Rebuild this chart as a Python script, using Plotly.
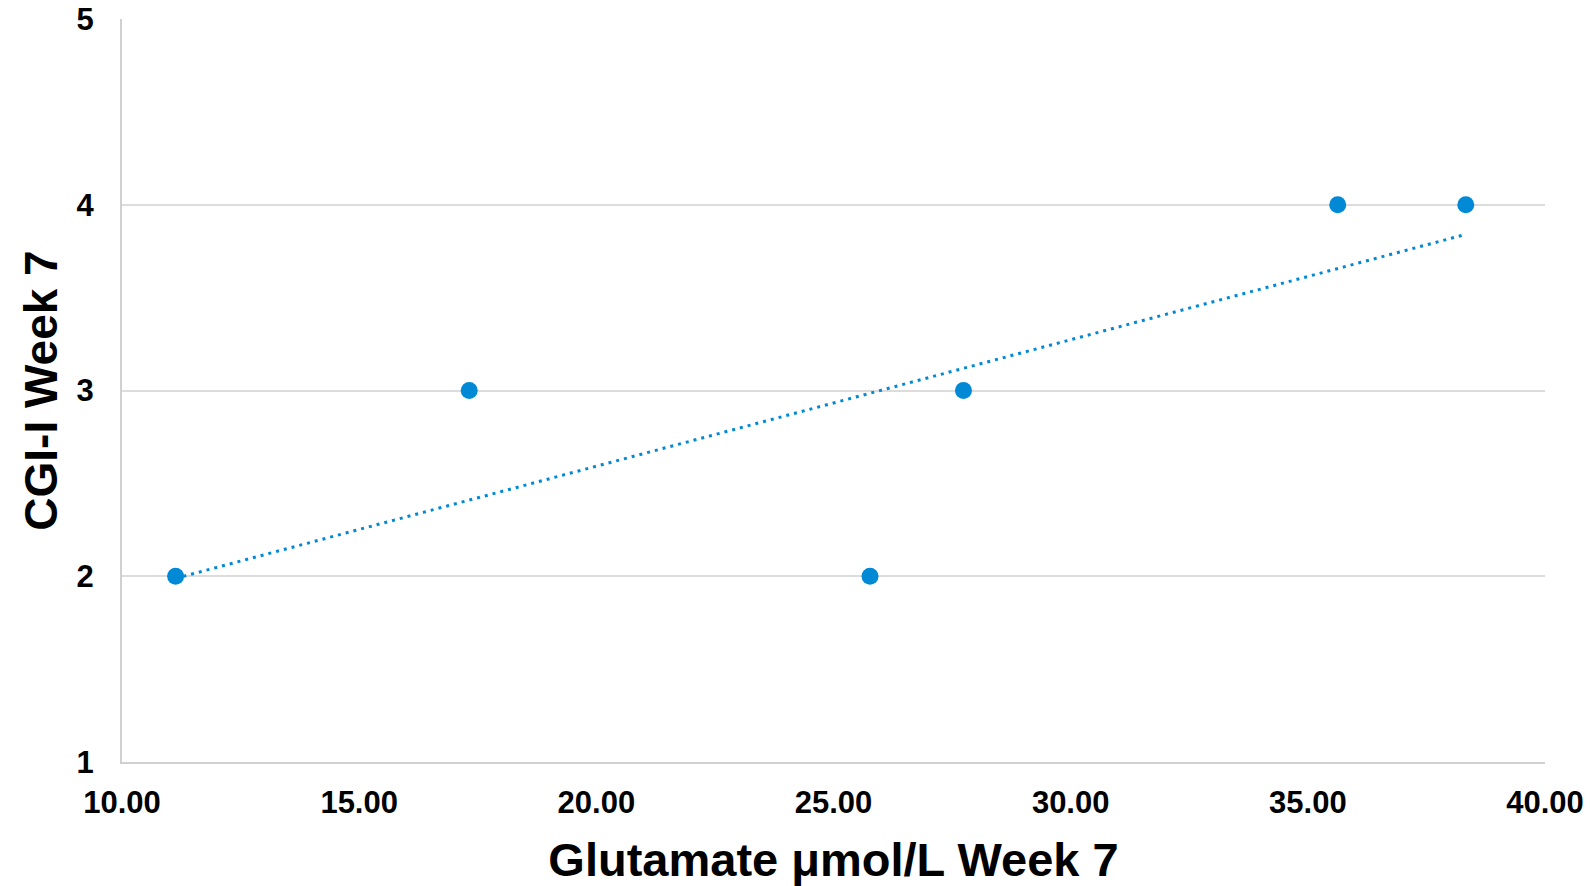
import numpy as np
import plotly.graph_objects as go

# Data
glutamate_week7 = [11.13, 17.32, 25.77, 27.74, 35.63, 38.33]
cgi_week7 = [2, 3, 2, 3, 4, 4]
x_tick_values = [10, 15, 20, 25, 30, 35, 40]
y_tick_values = [1, 2, 3, 4, 5]

BLUE = "#0189D6"
FONT = "Liberation Sans, Arial, sans-serif"

slope, intercept = np.polyfit(glutamate_week7, cgi_week7, 1)
trend_x = [min(glutamate_week7), max(glutamate_week7)]
trend_y = [slope * v + intercept for v in trend_x]

fig = go.Figure()
fig.add_trace(go.Scatter(
    x=trend_x, y=trend_y, mode="lines",
    line=dict(color=BLUE, width=3, dash="3px,5px"),
    hoverinfo="skip", showlegend=False,
))
fig.add_trace(go.Scatter(
    x=glutamate_week7, y=cgi_week7, mode="markers",
    marker=dict(color=BLUE, size=17, line=dict(width=0)),
    showlegend=False,
))

fig.update_layout(
    width=1590, height=886,
    margin=dict(l=122, r=45, t=19, b=124),
    paper_bgcolor="white", plot_bgcolor="white",
    font=dict(family=FONT, color="black"),
    xaxis=dict(
        range=[10, 40], tickvals=x_tick_values, tickformat=".2f",
        showgrid=False, zeroline=False,
        showline=True, linecolor="#d0d0d0", linewidth=2,
        ticks="", ticklabelstandoff=12,
        tickfont=dict(family=FONT, size=31, color="black", weight="bold"),
        title=dict(text="<b>Glutamate μmol/L Week 7</b>", standoff=28,
                   font=dict(family=FONT, size=47, color="black")),
        automargin=False,
    ),
    yaxis=dict(
        range=[1, 5], tickvals=y_tick_values,
        showgrid=True, gridcolor="#dcdcdc", gridwidth=2, zeroline=False,
        showline=True, linecolor="#d0d0d0", linewidth=2,
        ticks="", ticklabelstandoff=20,
        tickfont=dict(family=FONT, size=31, color="black", weight="bold"),
        title=dict(text="<b>CGI-I Week 7</b>", standoff=4,
                   font=dict(family=FONT, size=46, color="black")),
        automargin=False,
    ),
)

fig.write_html("out.html")
